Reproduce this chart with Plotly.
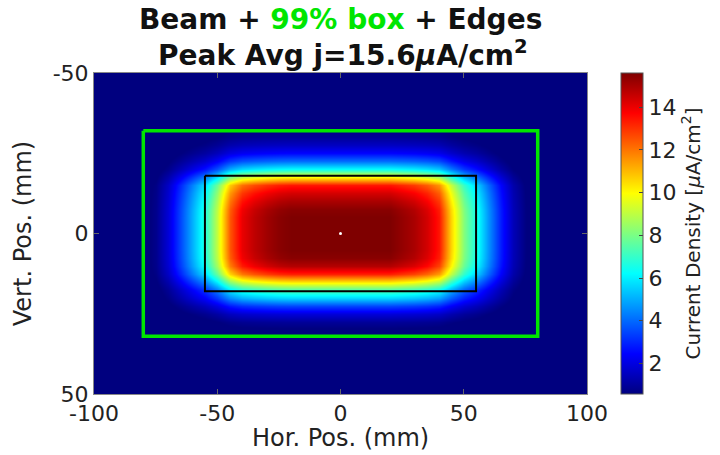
import numpy as np
import plotly.graph_objects as go

# ---- data ----
peak_j = 15.6  # uA/cm^2
x_mm = list(range(-100, 101, 5))
x_rel = [0, 0, 0, 0, 0.02, 0.05, 0.12, 0.22, 0.33, 0.43, 0.58, 0.80, 0.90, 0.94,
         0.97, 0.99, 1, 1, 1, 1, 1, 1, 1, 1, 1,
         0.98, 0.96, 0.92, 0.86, 0.68, 0.52, 0.42, 0.30, 0.18, 0.09, 0.04, 0.01,
         0, 0, 0, 0]
y_mm = [v / 2 for v in range(-100, 101, 5)]
y_rel = [0, 0, 0, 0, 0, 0.01,
         0.02, 0.04, 0.06, 0.10, 0.16, 0.26, 0.40, 0.64, 0.86, 0.92, 0.96,
         0.99, 1, 1, 1, 1, 1, 0.99, 0.95, 0.85, 0.66, 0.47, 0.36, 0.22, 0.12, 0.06, 0.03, 0.01,
         0, 0, 0, 0, 0, 0, 0]
box99_x = [-80, 80, 80, -80, -80]
box99_y = [-32, -32, 32, 32, -32]
edge_x = [-55, 55, 55, -55, -55]
edge_y = [-18, -18, 18, 18, -18]
centre_x = [0]
centre_y = [0]
x_ticks = [-100, -50, 0, 50, 100]
x_ticktext = ["-100", "-50", "0", "50", "100"]
y_ticks = [-50, 0, 50]
y_ticktext = ["-50", "0", "50"]
cb_ticks = [2, 4, 6, 8, 10, 12, 14]

z = peak_j * np.outer(np.array(y_rel), np.array(x_rel))

jet = [[0, '#00007F'], [0.125, '#0000FF'], [0.375, '#00FFFF'],
       [0.625, '#FFFF00'], [0.875, '#FF0000'], [1, '#7F0000']]

FONT = "DejaVu Sans"
TXT = '#222222'
fig = go.Figure()
fig.add_trace(go.Heatmap(
    x=x_mm, y=y_mm, z=z, colorscale=jet, zmin=0.57, zmax=peak_j, zsmooth='best',
    colorbar=dict(
        x=1.069, xanchor='left', y=0.5, yanchor='middle', xpad=0, ypad=0,
        len=321, lenmode='pixels', thickness=22,
        outlinewidth=1, outlinecolor='#555555',
        tickvals=cb_ticks, ticks='inside', ticklen=4, tickcolor='#444444',
        tickfont=dict(family=FONT, size=22, color=TXT),
        title=dict(text='Current Density [<i>μ</i>A/cm<sup>2</sup>]', side='right',
                   font=dict(family=FONT, size=20, color=TXT)),
    ),
    showscale=True,
))
fig.add_trace(go.Scatter(x=box99_x, y=box99_y, mode='lines',
                         line=dict(color='#00E600', width=3.5), showlegend=False))
fig.add_trace(go.Scatter(x=edge_x, y=edge_y, mode='lines',
                         line=dict(color='#000000', width=2), showlegend=False))
fig.add_trace(go.Scatter(x=centre_x, y=centre_y, mode='markers',
                         marker=dict(color='white', size=3), showlegend=False))

fig.add_annotation(
    text="<b>Beam + <span style='color:#00E600'>99% box</span> + Edges</b>",
    xref='paper', yref='paper', x=0.50, y=1.168, xanchor='center', yanchor='middle',
    showarrow=False, font=dict(family=FONT, size=28, color='#111111'))
fig.add_annotation(
    text="<b>Peak Avg j=15.6<i>μ</i>A/cm<sup>2</sup></b>",
    xref='paper', yref='paper', x=0.505, y=1.062, xanchor='center', yanchor='middle',
    showarrow=False, font=dict(family=FONT, size=28, color='#111111'))
fig.add_annotation(
    text="Hor. Pos. (mm)",
    xref='paper', yref='paper', x=0.5, y=-0.138, xanchor='center', yanchor='middle',
    showarrow=False, font=dict(family=FONT, size=24, color=TXT))

fig.update_layout(
    width=720, height=455,
    margin=dict(l=94, r=133, t=73, b=61, autoexpand=False),
    paper_bgcolor='white', plot_bgcolor='white',
    showlegend=False,
    xaxis=dict(
        range=[-100, 100], tickvals=x_ticks, ticktext=x_ticktext, ticks='inside', ticklen=5,
        tickcolor='#666666', showline=True, linecolor='#888888', mirror='ticks',
        showgrid=False, zeroline=False, automargin=False,
        tickfont=dict(family=FONT, size=22, color=TXT),
    ),
    yaxis=dict(
        range=[50, -50], tickvals=y_ticks, ticktext=y_ticktext, ticks='inside', ticklen=5,
        tickcolor='#666666', showline=True, linecolor='#888888', mirror='ticks',
        showgrid=False, zeroline=False, automargin=False,
        tickfont=dict(family=FONT, size=22, color=TXT),
        title=dict(text='Vert. Pos. (mm)', font=dict(family=FONT, size=24, color=TXT),
                   standoff=14),
    ),
)

fig.write_html("out.html", config={'displayModeBar': False},
               post_script="document.body.style.margin='0px';"
                           "document.body.style.overflow='hidden';")
